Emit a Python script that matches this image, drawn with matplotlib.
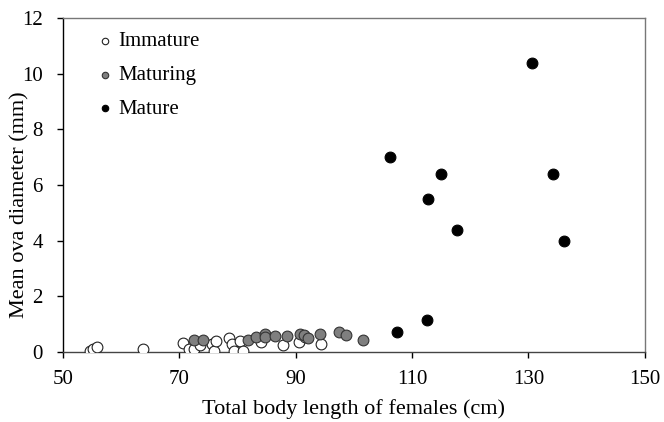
import matplotlib
matplotlib.use("Agg")
from matplotlib import pyplot as plt

plt.rcParams['font.family'] = ['Liberation Serif', 'DejaVu Serif']

# immature females
imm_x = [54.7, 55.1, 55.9, 63.8, 70.7, 71.6, 72.5, 73.6, 75.6, 75.9, 76.3, 78.5,
         79.1, 79.3, 80.4, 81.0, 84.0, 87.8, 90.5, 91.6, 94.3]
imm_y = [0.02, 0.12, 0.18, 0.12, 0.32, 0.12, 0.12, 0.24, 0.30, 0.02, 0.40, 0.51,
         0.30, 0.02, 0.40, 0.02, 0.36, 0.24, 0.36, 0.54, 0.30]
# maturing females
mtg_x = [72.5, 74.0, 81.8, 83.1, 84.8, 84.7, 86.5, 88.5, 90.7, 91.5, 92.1, 94.2,
         97.5, 98.6, 101.5]
mtg_y = [0.42, 0.42, 0.42, 0.54, 0.66, 0.52, 0.56, 0.56, 0.66, 0.60, 0.51, 0.66,
         0.72, 0.60, 0.42]
# mature females
mat_x = [106.2, 107.4, 112.5, 112.7, 114.9, 117.8, 130.6, 134.2, 136.2]
mat_y = [7.0, 0.72, 1.16, 5.5, 6.4, 4.4, 10.4, 6.4, 4.0]

fig = plt.figure(figsize=(6.64, 4.22), dpi=100)
ax = fig.add_axes([0.095, 0.166, 0.876, 0.791])

ax.scatter(imm_x, imm_y, s=60, facecolor='white', edgecolor='#222222', linewidth=0.8,
           label='Immature', zorder=3)
ax.scatter(mtg_x, mtg_y, s=60, facecolor='#7f7f7f', edgecolor='#333333', linewidth=0.8,
           label='Maturing', zorder=3)
ax.scatter(mat_x, mat_y, s=60, facecolor='black', edgecolor='black', linewidth=0.8,
           label='Mature', zorder=3)

ax.set_xlim(50, 150)
ax.set_ylim(0, 12)
ax.set_xticks([50, 70, 90, 110, 130, 150])
ax.set_yticks([0, 2, 4, 6, 8, 10, 12])
ax.tick_params(labelsize=15, direction='out', length=4.5, width=1, colors='black')
ax.tick_params(axis='y', pad=10)
ax.tick_params(axis='x', pad=8.5)
ax.set_xlabel('Total body length of females (cm)', fontsize=16)
ax.set_ylabel('Mean ova diameter (mm)', fontsize=16)
ax.xaxis.set_label_coords(0.5, -0.14)
ax.yaxis.set_label_coords(-0.058, 0.44)

ax.spines['left'].set_color('black')
ax.spines['bottom'].set_color('#444444')
ax.spines['top'].set_color('#777777')
ax.spines['right'].set_color('#777777')
for sp in ax.spines.values():
    sp.set_linewidth(1.0)

ax.legend(loc='upper left', frameon=False, fontsize=15, markerscale=0.6,
          handlelength=1.3, handletextpad=0.0, labelspacing=0.68, borderpad=0,
          borderaxespad=0, bbox_to_anchor=(0.049, 0.959))

fig.savefig('out.png', dpi=100)
